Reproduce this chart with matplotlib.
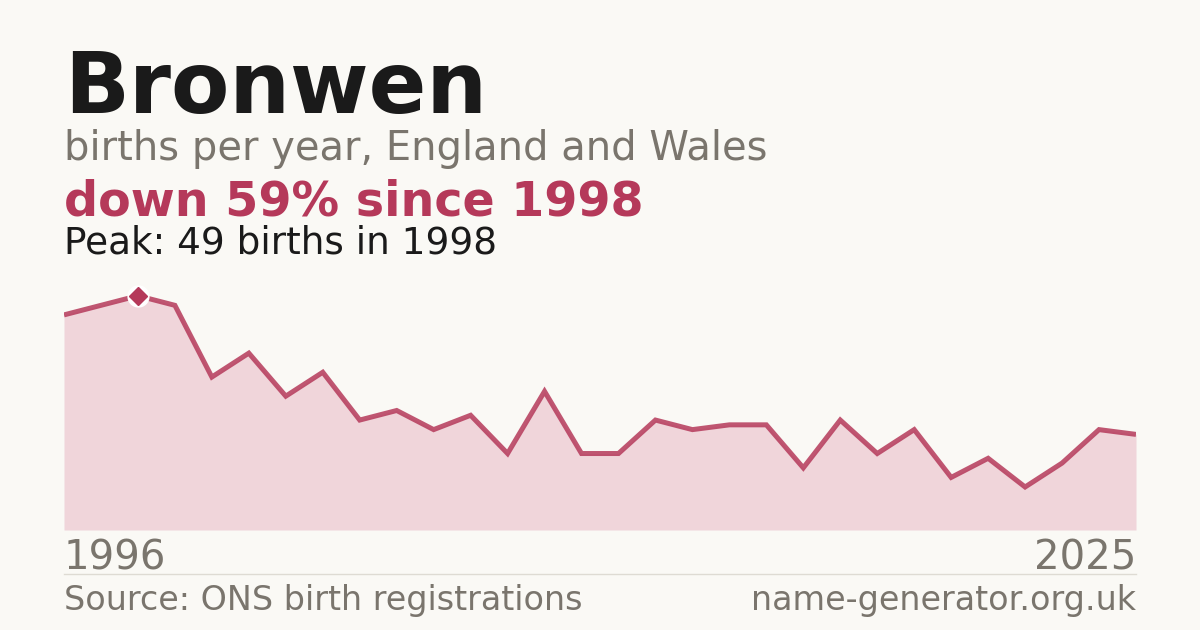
import matplotlib.pyplot as plt
import numpy as np

plt.rcParams["font.family"] = ["DejaVu Sans"]

years = list(range(1996, 2026))
births = [45, 47, 49, 47, 32, 37, 28, 33, 23, 25,
          21, 24, 16, 29, 16, 16, 23, 21, 22, 22,
          13, 23, 16, 21, 11, 15, 9, 14, 21, 20]

name = "Bronwen"
subtitle = "births per year, England and Wales"
headline = "down 59% since 1998"
peak_text = "Peak: 49 births in 1998"
source = "Source: ONS birth registrations"
site = "name-generator.org.uk"

BG = "#faf9f5"
ACCENT = "#b5395a"
FILL = "#f0d5da"
GREY = "#7a756d"
DARK = "#1a1a1a"

W, H = 1200, 630
fig = plt.figure(figsize=(W / 100, H / 100), dpi=100, facecolor=BG)


def fx(px):
    return px / W


def fy(py):
    return 1 - py / H


# chart area: x 64..1136, y 280..530 px
ax = fig.add_axes([fx(64), fy(530), fx(1136) - fx(64), (530 - 280) / H])
ax.set_facecolor(BG)
ax.fill_between(years, births, 0, color=FILL, lw=0)
ax.plot(years, births, color=ACCENT, lw=3.6, alpha=0.85,
        solid_joinstyle="miter", solid_capstyle="butt")
pk = int(np.argmax(births))
ax.plot(years[pk], births[pk], marker="o", ms=15, color="white", zorder=5)
ax.plot(years[pk], births[pk], marker="D", ms=9, color=ACCENT, zorder=6)
ax.set_xlim(years[0], years[-1])
ax.set_ylim(0, 52.3)
ax.axis("off")

fig.text(fx(64), fy(113), name, fontsize=61.3, fontweight="bold",
         color=DARK, va="baseline")
fig.text(fx(64), fy(160), subtitle, fontsize=28.8, color=GREY, va="baseline")
fig.text(fx(64), fy(215), headline, fontsize=34.3, fontweight="bold",
         color=ACCENT, va="baseline")
fig.text(fx(64), fy(254), peak_text, fontsize=26.9, color=DARK, va="baseline")

fig.text(fx(64), fy(570), str(years[0]), fontsize=28.9, color=GREY, va="baseline")
fig.text(fx(1136), fy(570), str(years[-1]), fontsize=28.9, color=GREY,
         va="baseline", ha="right")

fig.add_artist(plt.Line2D([fx(64), fx(1136)], [fy(574), fy(574)],
                          color="#dedbd3", lw=1))

fig.text(fx(64), fy(610), source, fontsize=24, color=GREY, va="baseline")
fig.text(fx(1136), fy(610), site, fontsize=24, color=GREY,
         va="baseline", ha="right")

fig.savefig("out.png", dpi=100, facecolor=BG)
